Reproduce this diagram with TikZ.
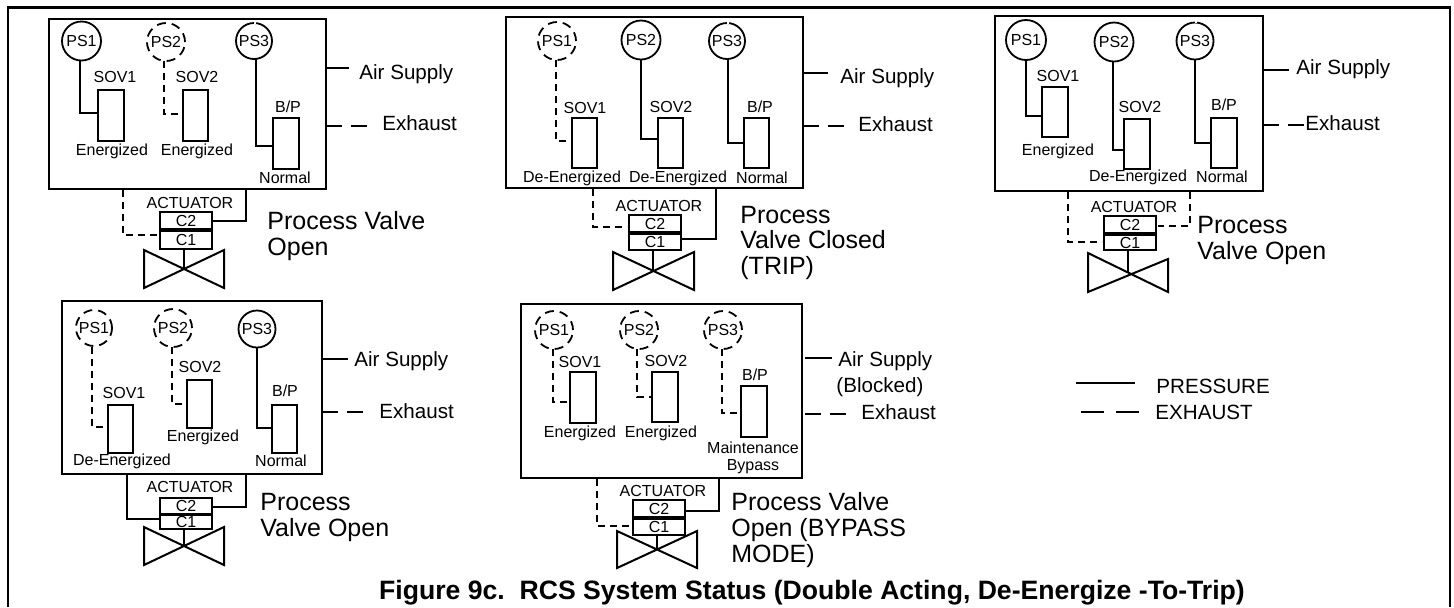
\documentclass[tikz,border=0pt]{standalone}
\usepackage{fontspec}
\setmainfont{Liberation Sans}
\tikzset{
  pres/.style={draw,line width=0.9pt,line join=miter},
  exh/.style={draw,line width=0.9pt,dash pattern=on 8pt off 4.5pt},
  exhs/.style={draw,line width=0.9pt,dash pattern=on 3.5pt off 2.5pt},
  legend/.style={draw,line width=0.8pt},
  frame/.style={draw,line width=1.2pt,line join=miter},
  cab/.style={draw,line width=1pt},
  vbox/.style={draw,line width=1pt,minimum width=0pt,minimum height=0pt,inner sep=0pt},
  gauge/.style={circle,line width=0.9pt,inner sep=0pt},
  ge/.style={gauge,draw},
  gx/.style={gauge,draw,dash pattern=on 4.5pt off 3pt},
  small/.style={font=\fontsize{8}{8.2}\selectfont,inner sep=0pt,align=center},
  mid/.style={font=\fontsize{10.3}{12}\selectfont,inner sep=0pt,anchor=west},
  big/.style={font=\fontsize{12.5}{12.9}\selectfont,inner sep=0pt,anchor=north west,align=left},
  capt/.style={font=\bfseries\fontsize{13.3}{15}\selectfont,inner sep=0pt},
  gaptick/.style={draw=white,line width=1.4pt}
}
% name, centre x, centre y, radius px, style, label
\newcommand{\gaugeat}[6]{\node[#5,minimum size=#4pt,small] (#1) at (#2,#3) {#6};}
% name, x1, y1, x2, y2
\newcommand{\boxat}[5]{\node[vbox,minimum width={(#4-#2)*0.5pt},minimum height={(#5-#3)*0.5pt}] (#1) at ({(#2+#4)/2},{(#3+#5)/2}) {};}
% name, centre-x, xleft,xright,ytop,ybottom,ycentre
\newcommand{\valveat}[7]{%
  \coordinate (#1c) at (#2,#7);
  \coordinate (#1a) at (#3,#5);
  \coordinate (#1b) at (#3,#6);
  \coordinate (#1d) at (#4,#5);
  \coordinate (#1e) at (#4,#6);
  \draw[cab,line join=miter] (#1a) -- (#1e) -- (#1d) -- (#1b) -- cycle;
}
\newcommand{\gapat}[1]{\path[gaptick] (#1.north) +(-0.2pt,0) -- +(1.2pt,0);}
\begin{document}
\begin{tikzpicture}[x=0.5pt,y=-0.5pt]
\useasboundingbox (0,0) rectangle (1454,607);
\fill[white] (0,0) rectangle (1454,607);
\path[frame] (8,607) -- (8,7.5) -- (1450,7.5) -- (1450,607);

% ===== Panel 1 =====
\boxat{a}{49}{19}{326}{189}
\gaugeat{ap1}{81.5}{41}{19.5}{ge}{PS1}
\gaugeat{ap2}{166}{42}{19}{gx}{PS2}
\gaugeat{ap3}{254}{41}{18}{ge}{PS3}
\gapat{ap3}
\boxat{as1}{98}{90}{124}{141}
\boxat{as2}{183}{90}{208}{141}
\boxat{as3}{273}{118}{299}{169}
\node[small] (at1) at (115,77) {SOV1};
\node[small] (at2) at (197,77) {SOV2};
\node[small] (at3) at (288,107) {B/P};
\node[small] (at4) at (112,151) {Energized};
\node[small] (at5) at (197,151) {Energized};
\node[small] (at6) at (285,178) {Normal};
\path[pres] (80,60) |- (98,113);
\path[exhs] (164,61) |- (183,114);
\path[pres] (256,59) |- (273,146);
\coordinate (aa) at (349,68); \coordinate (ae) at (367,126);
\path[pres] (326,68) -- (aa);
\path[exh] (326,126) -- (ae);
\node[mid] (aair) at (359,74.5) {Air Supply};
\node[mid] (aexh) at (382,123) {Exhaust};
\node[small] (aact) at (190,203) {ACTUATOR};
\boxat{ac2}{160}{212}{212}{229}
\boxat{ac1}{160}{231}{212}{249}
\node[small] at (ac2) {C2};
\node[small] at (ac1) {C1};
\path[exhs] (123,190) |- (158,235);
\path[pres] (246,190) |- (212,221);
\valveat{av}{184}{144}{224}{250}{288}{269}
\draw[cab] (ac1.south -| avc) -- (avc);
\node[big] (atx) at (267,211) {Process Valve\\Open};

% ===== Panel 2 =====
\boxat{b}{506}{17}{803}{188}
\gaugeat{bp1}{557}{41}{19}{gx}{PS1}
\gaugeat{bp2}{641}{40}{19.5}{ge}{PS2}
\gaugeat{bp3}{727}{41}{18}{ge}{PS3}
\gapat{bp3}
\boxat{bs1}{572}{118}{597}{168}
\boxat{bs2}{658}{118}{683}{168}
\boxat{bs3}{744}{118}{769}{168}
\node[small] (bt1) at (585,108) {SOV1};
\node[small] (bt2) at (671,107) {SOV2};
\node[small] (bt3) at (760,107) {B/P};
\node[small] (bt4) at (572,178) {De-Energized};
\node[small] (bt5) at (678,178) {De-Energized};
\node[small] (bt6) at (762,178) {Normal};
\path[exhs] (556,60) |- (572,141);
\path[pres] (641,59) |- (658,139);
\path[pres] (728,59) |- (744,143);
\coordinate (ba) at (828,73); \coordinate (be) at (845,126);
\path[pres] (803,73) -- (ba);
\path[exh] (803,126) -- (be);
\node[mid] (bair) at (840,78.5) {Air Supply};
\node[mid] (bexh) at (858,124) {Exhaust};
\node[small] (bact) at (659,206) {ACTUATOR};
\boxat{bc2}{629}{215}{681}{232}
\boxat{bc1}{629}{234}{681}{250}
\node[small] at (bc2) {C2};
\node[small] at (bc1) {C1};
\path[exhs] (593,189) |- (627,227);
\path[pres] (716,189) |- (682,239);
\valveat{bv}{653}{613}{694}{252}{290}{272}
\draw[cab] (bc1.south -| bvc) -- (bvc);
\node[big] (btx) at (740,205.5) {Process\\Valve Closed\\(TRIP)};

% ===== Panel 3 =====
\boxat{c}{995}{16}{1263}{191}
\gaugeat{cp1}{1026}{40}{20}{ge}{PS1}
\gaugeat{cp2}{1114}{42}{19.5}{ge}{PS2}
\gaugeat{cp3}{1195}{41}{18.5}{ge}{PS3}
\gapat{cp3}
\boxat{cs1}{1042}{87}{1068}{137}
\boxat{cs2}{1124}{119}{1150}{169}
\boxat{cs3}{1211}{118}{1237}{168}
\node[small] (ct1) at (1058,76) {SOV1};
\node[small] (ct2) at (1140,107) {SOV2};
\node[small] (ct3) at (1224,105) {B/P};
\node[small] (ct4) at (1058,151) {Energized};
\node[small] (ct5) at (1138,177) {De-Energized};
\node[small] (ct6) at (1222,177) {Normal};
\path[pres] (1026,60) |- (1042,116);
\path[pres] (1113,61) |- (1124,150);
\path[pres] (1195,59) |- (1211,143);
\coordinate (ca) at (1289,70); \coordinate (ce) at (1304,125);
\path[pres] (1263,70) -- (ca);
\path[exh] (1263,125) -- (ce);
\node[mid] (cair) at (1296,69.5) {Air Supply};
\node[mid] (cexh) at (1305,123) {Exhaust};
\node[small] (cact) at (1134,207) {ACTUATOR};
\boxat{cc2}{1104}{216}{1156}{233}
\boxat{cc1}{1104}{235}{1156}{250}
\node[small] at (cc2) {C2};
\node[small] at (cc1) {C1};
\path[exhs] (1068,192) |- (1102,242);
\path[exhs] (1190,192) |- (1158,226);
\draw[cab,line join=miter] (1088,253) -- (1168,292) -- (1168,259) -- (1088,292) -- cycle;
\coordinate (cvc) at (1128,273);
\draw[cab] (cc1.south -| cvc) -- (cvc);
\node[big] (ctx) at (1197,216) {Process\\Valve Open};

% ===== Panel 4 =====
\boxat{d}{62}{301}{322}{474}
\gaugeat{dp1}{94}{328}{18}{gx}{PS1}
\gaugeat{dp2}{173}{328}{19}{gx}{PS2}
\gaugeat{dp3}{257}{329}{18.5}{ge}{PS3}
\boxat{ds1}{108}{405}{133}{453}
\boxat{ds2}{187}{380}{212}{428}
\boxat{ds3}{272}{405}{297}{453}
\node[small] (dt1) at (124,393) {SOV1};
\node[small] (dt2) at (200,367) {SOV2};
\node[small] (dt3) at (285,391) {B/P};
\node[small] (dt4) at (122,461) {De-Energized};
\node[small] (dt5) at (203,437) {Energized};
\node[small] (dt6) at (281,461) {Normal};
\path[exhs] (92,347) |- (108,427);
\path[exhs] (172,347) |- (187,404);
\path[pres] (257,347) |- (272,428);
\coordinate (da) at (348,359); \coordinate (de) at (367,412);
\path[pres] (322,359) -- (da);
\path[exh] (322,412) -- (de);
\node[mid] (dair) at (354,361.5) {Air Supply};
\node[mid] (dexh) at (379,411) {Exhaust};
\node[small] (dact) at (190,487) {ACTUATOR};
\boxat{dc2}{160}{498}{212}{514}
\boxat{dc1}{160}{515}{212}{529}
\node[small] at (dc2) {C2};
\node[small] at (dc1) {C1};
\path[pres] (127,474) |- (160,519);
\path[pres] (246,474) |- (212,507);
\valveat{dv}{184}{144}{224}{527}{565}{546}
\draw[cab] (dc1.south -| dvc) -- (dvc);
\node[big] (dtx) at (260,493) {Process\\Valve Open};

% ===== Panel 5 =====
\boxat{e}{521}{304}{802}{478}
\gaugeat{ep1}{554}{330}{19}{gx}{PS1}
\gaugeat{ep2}{639}{330}{19}{gx}{PS2}
\gaugeat{ep3}{723}{330}{19}{gx}{PS3}
\boxat{es1}{570}{372}{596}{423}
\boxat{es2}{652}{372}{678}{422}
\boxat{es3}{741}{386}{767}{437}
\node[small] (et1) at (580,362) {SOV1};
\node[small] (et2) at (666,361) {SOV2};
\node[small] (et3) at (755,375) {B/P};
\node[small] (et4) at (580,433) {Energized};
\node[small] (et5) at (661,433) {Energized};
\node[small] (et6) at (753,458) {Maintenance\\Bypass};
\path[exhs] (553,349) |- (570,402);
\path[exhs] (637,349) |- (652,397);
\path[exhs] (722,349) |- (741,413);
\coordinate (ea) at (832,358); \coordinate (ee) at (848,414);
\path[pres] (805,358) -- (ea);
\path[exh] (805,414) -- (ee);
\node[mid] (eair) at (838,361) {Air Supply};
\node[mid] (eblk) at (836,387) {(Blocked)};
\node[mid] (eexh) at (861,412) {Exhaust};
\node[small] (eact) at (663,491) {ACTUATOR};
\boxat{ec2}{633}{500}{685}{517}
\boxat{ec1}{633}{519}{685}{535}
\node[small] at (ec2) {C2};
\node[small] at (ec1) {C1};
\path[exhs] (597,479) |- (632,526);
\path[pres] (719,479) |- (686,511);
\valveat{ev}{657}{617}{697}{531}{568}{549}
\draw[cab] (ec1.south -| evc) -- (evc);
\node[big] (etx) at (731,492) {Process Valve\\Open (BYPASS\\MODE)};

% ===== Legend =====
\coordinate (l1a) at (1076,383); \coordinate (l1b) at (1135,383);
\coordinate (l2a) at (1081,412); \coordinate (l2b) at (1139,412);
\path[legend] (l1a) -- (l1b);
\path[legend,dash pattern=on 11.5pt off 6pt] (l2a) -- (l2b);
\node[mid] (lp) at (1156,386) {PRESSURE};
\node[mid] (lx) at (1155,412) {EXHAUST};

\node[capt] (cap) at (812,592.5) {Figure 9c.\ \ RCS System Status (Double Acting, De-Energize -To-Trip)};
\end{tikzpicture}
\end{document}
